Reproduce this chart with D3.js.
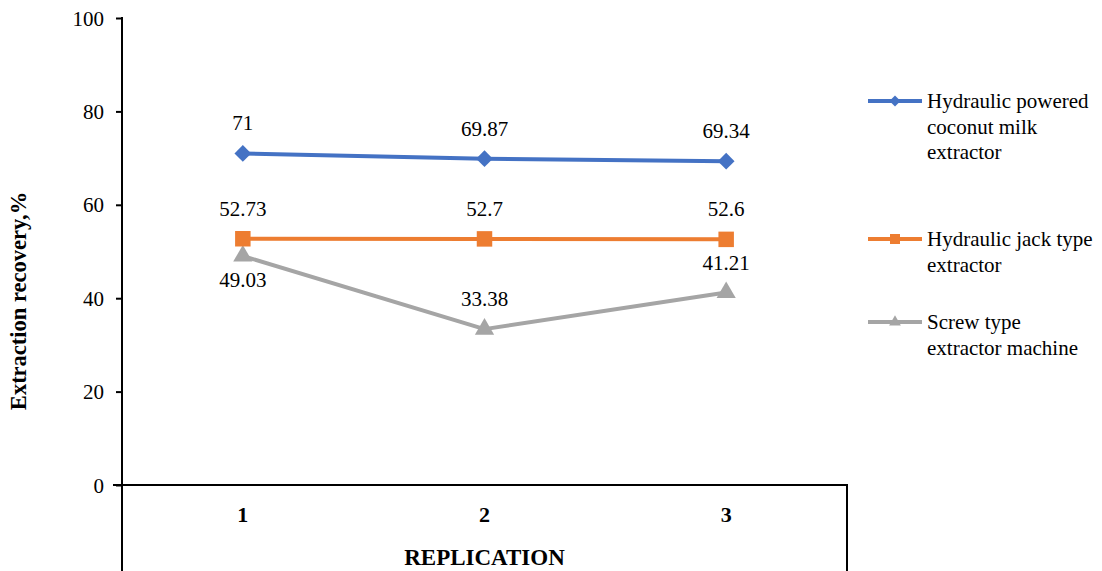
<!DOCTYPE html>
<html><head><meta charset="utf-8">
<script src="https://cdn.jsdelivr.net/npm/d3@7"></script>
<style>body{margin:0;background:#fff}svg{display:block}</style>
</head><body><svg id="c" width="1102" height="571"></svg>
<script>
const categories = ["1","2","3"];
const seriesNames = [["Hydraulic powered","coconut milk","extractor"],["Hydraulic jack type","extractor"],["Screw type","extractor machine"]];
const hydraulicPowered = [71, 69.87, 69.34];
const hydraulicJack = [52.73, 52.7, 52.6];
const screwType = [49.03, 33.38, 41.21];
const yTicks = [0,20,40,60,80,100];
const labelPos = [["above","above","above"],["above","above","above"],["below","above","above"]];

const FF = "Liberation Serif";
const svg = d3.select("#c");
const pLeft=122, pRight=847, pTop=18, pBottom=485;
const x = d3.scaleBand().domain(categories).range([pLeft,pRight]);
const y = d3.scaleLinear().domain([0,100]).range([pBottom,pTop]);
const colors = ["#4472C4","#ED7D31","#A5A5A5"];
const data = [hydraulicPowered, hydraulicJack, screwType];
const shapes = [d3.symbolSquare, d3.symbolSquare, d3.symbolTriangle];
const rotations = [45, 0, 0];
const sizes = [140, 240, 160];

// y axis
const ya = svg.append("g").attr("transform",`translate(${pLeft},0)`)
  .call(d3.axisLeft(y).tickValues(yTicks).tickSize(6).tickPadding(12));
ya.attr("font-family",FF).attr("font-size",21);
ya.select(".domain").remove();
ya.selectAll(".tick line").attr("stroke","#000").attr("stroke-width",2);
ya.selectAll(".tick text").attr("font-family",FF).attr("font-size",21).attr("fill","#000").attr("dy","0.34em");
svg.append("line").attr("x1",pLeft).attr("x2",pLeft).attr("y1",y(100)-1).attr("y2",571).attr("stroke","#000").attr("stroke-width",2);
// x axis
svg.append("line").attr("x1",pLeft-9).attr("x2",pRight).attr("y1",pBottom).attr("y2",pBottom).attr("stroke","#000").attr("stroke-width",2);
svg.append("line").attr("x1",pRight).attr("x2",pRight).attr("y1",pBottom-1).attr("y2",571).attr("stroke","#000").attr("stroke-width",2);
svg.append("g").selectAll("text").data(categories).join("text")
  .attr("x",d=>x(d)+x.bandwidth()/2).attr("y",522).attr("text-anchor","middle")
  .attr("font-family",FF).attr("font-size",22).attr("font-weight","bold").text(d=>d);
svg.append("text").attr("x",(pLeft+pRight)/2).attr("y",565).attr("text-anchor","middle")
  .attr("font-family",FF).attr("font-size",23).attr("font-weight","bold").text("REPLICATION");
svg.append("text").attr("transform",`translate(26,301) rotate(-90)`).attr("text-anchor","middle")
  .attr("font-family",FF).attr("font-size",22.5).attr("font-weight","bold").text("Extraction recovery,%");

const cx = d=>x(d)+x.bandwidth()/2;
[2,1,0].forEach(i=>{
  const vals = data[i];
  const line = d3.line().x((v,j)=>cx(categories[j])).y(v=>y(v));
  svg.append("path").attr("d",line(vals)).attr("fill","none").attr("stroke",colors[i]).attr("stroke-width",4).attr("stroke-linejoin","round");
  svg.append("g").selectAll("path").data(vals).join("path")
    .attr("transform",(v,j)=>`translate(${cx(categories[j])},${y(v)}) rotate(${rotations[i]})`)
    .attr("d",d3.symbol().type(shapes[i]).size(sizes[i])).attr("fill",colors[i]);
});
[0,1,2].forEach(i=>{
  svg.append("g").selectAll("text").data(data[i]).join("text")
    .attr("x",(v,j)=>cx(categories[j])).attr("y",(v,j)=>y(v)+(labelPos[i][j]==="above"?-23:31))
    .attr("text-anchor","middle").attr("font-family",FF).attr("font-size",21).attr("fill","#000").text(v=>v);
});

// legend
const legY = [101,239,322];
seriesNames.forEach((names,i)=>{
  const g = svg.append("g").attr("transform",`translate(0,${legY[i]})`);
  g.append("line").attr("x1",868).attr("x2",922).attr("y1",0).attr("y2",0).attr("stroke",colors[i]).attr("stroke-width",4);
  g.append("path").attr("transform",`translate(895,0) rotate(${rotations[i]})`).attr("d",d3.symbol().type(shapes[i]).size(i===1?100:60)).attr("fill",colors[i]);
  names.forEach((t,k)=>{
    g.append("text").attr("x",927).attr("y",7+k*25.5).attr("font-family",FF).attr("font-size",21).attr("fill","#000").text(t);
  });
});
</script></body></html>
